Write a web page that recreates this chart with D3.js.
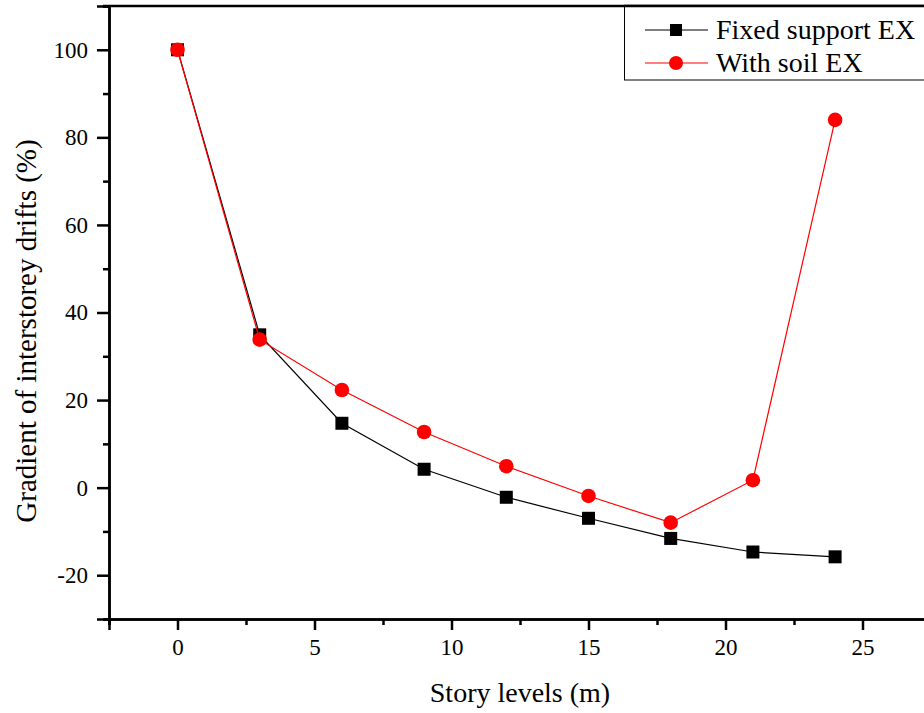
<!DOCTYPE html>
<html>
<head>
<meta charset="utf-8">
<script src="https://cdn.jsdelivr.net/npm/d3@7"></script>
<style>
  body { margin: 0; background: #fff; }
  svg { display: block; }
  text { font-family: "Liberation Serif", "Times New Roman", serif; fill: #000; }
</style>
</head>
<body>
<svg id="chart"></svg>
<script>
// story levels (m)
var levels = [0, 3, 6, 9, 12, 15, 18, 21, 24];
// gradient of interstorey drifts (%)
var fixedEX = [100, 34.9, 14.7, 4.2, -2.2, -7.0, -11.6, -14.7, -15.8];
var soilEX  = [100, 33.8, 22.3, 12.7, 4.9, -1.9, -8.0, 1.7, 84.0];
var xTicks = [0, 5, 10, 15, 20, 25];
var yTicks = [-20, 0, 20, 40, 60, 80, 100];
var seriesNames = ["Fixed support EX", "With soil EX"];

var W = 924, H = 713;
var margin = {top: 6, right: -7, bottom: 94, left: 109};
var width = W - margin.left - margin.right,
    height = H - margin.top - margin.bottom;
var serif = "Liberation Serif, Times New Roman, serif";

var svg = d3.select("#chart").attr("width", W).attr("height", H);
var g = svg.append("g").attr("transform", "translate(" + margin.left + "," + margin.top + ")");

var x = d3.scaleLinear().domain([-2.5, 27.5]).range([0, width]);
var y = d3.scaleLinear().domain([-30, 110]).range([height, 0]);

// minor ticks
var xMinor = d3.range(-2.5, 27.6, 5);
var yMinor = d3.range(-30, 111, 20);

var fmt = function(d) { return String(d); }; // plain hyphen minus

var xAxis = g.append("g").attr("transform", "translate(0," + height + ")")
  .call(d3.axisBottom(x).tickValues(xTicks).tickSize(11).tickPadding(9).tickFormat(fmt));
var xAxisMinor = g.append("g").attr("transform", "translate(0," + height + ")")
  .call(d3.axisBottom(x).tickValues(xMinor).tickSize(6).tickFormat(""));
var yAxis = g.append("g")
  .call(d3.axisLeft(y).tickValues(yTicks).tickSize(12).tickPadding(9).tickFormat(fmt));
var yAxisMinor = g.append("g")
  .call(d3.axisLeft(y).tickValues(yMinor).tickSize(6).tickFormat(""));

[xAxis, xAxisMinor, yAxis, yAxisMinor].forEach(function(a) {
  a.attr("font-family", serif).attr("font-size", 23);
  a.select(".domain").attr("stroke", "#000").attr("stroke-width", 2.5);
  a.selectAll(".tick line").attr("stroke", "#000").attr("stroke-width", 2.5);
  a.selectAll(".tick text").attr("fill", "#000");
});

// top frame line
g.append("line")
  .attr("x1", -6).attr("x2", width)
  .attr("y1", 0).attr("y2", 0)
  .attr("stroke", "#000").attr("stroke-width", 2.5);

var line = d3.line()
  .x(function(d, i) { return x(levels[i]); })
  .y(function(d) { return y(d); });

// fixed support
g.append("path").datum(fixedEX)
  .attr("d", line).attr("fill", "none").attr("stroke", "#000").attr("stroke-width", 1.2);
g.selectAll(".sq").data(fixedEX).enter().append("rect")
  .attr("x", function(d, i) { return x(levels[i]) - 6.5; })
  .attr("y", function(d) { return y(d) - 6.5; })
  .attr("width", 13).attr("height", 13).attr("fill", "#000");

// with soil
g.append("path").datum(soilEX)
  .attr("d", line).attr("fill", "none").attr("stroke", "#ff0000").attr("stroke-width", 1.2);
g.selectAll(".ci").data(soilEX).enter().append("circle")
  .attr("cx", function(d, i) { return x(levels[i]); })
  .attr("cy", function(d) { return y(d); })
  .attr("r", 7.3).attr("fill", "#ff0000");

// axis titles
svg.append("text")
  .attr("x", 520).attr("y", 702)
  .attr("text-anchor", "middle").attr("font-family", serif).attr("font-size", 28)
  .text("Story levels (m)");
svg.append("text")
  .attr("transform", "translate(36,331) rotate(-90)")
  .attr("text-anchor", "middle").attr("font-family", serif).attr("font-size", 29)
  .text("Gradient of interstorey drifts (%)");

// legend
var lg = svg.append("g");
lg.append("rect")
  .attr("x", 624.5).attr("y", 6).attr("width", 320).attr("height", 74)
  .attr("fill", "#fff").attr("stroke", "#000").attr("stroke-width", 1);
svg.append("line").attr("x1", 624).attr("x2", W).attr("y1", 6).attr("y2", 6)
  .attr("stroke", "#000").attr("stroke-width", 2.5);
var rows = [
  {name: seriesNames[0], color: "#000", shape: "square", y: 30},
  {name: seriesNames[1], color: "#ff0000", shape: "circle", y: 63}
];
rows.forEach(function(r) {
  lg.append("line").attr("x1", 645).attr("x2", 708).attr("y1", r.y).attr("y2", r.y)
    .attr("stroke", r.color).attr("stroke-width", 1.2);
  if (r.shape === "square") {
    lg.append("rect").attr("x", 670).attr("y", r.y - 6).attr("width", 12).attr("height", 12).attr("fill", r.color);
  } else {
    lg.append("circle").attr("cx", 676).attr("cy", r.y).attr("r", 7).attr("fill", r.color);
  }
  lg.append("text").attr("x", 716).attr("y", r.y + 9).attr("font-family", serif).attr("font-size", 28).text(r.name);
});
</script>
</body>
</html>
